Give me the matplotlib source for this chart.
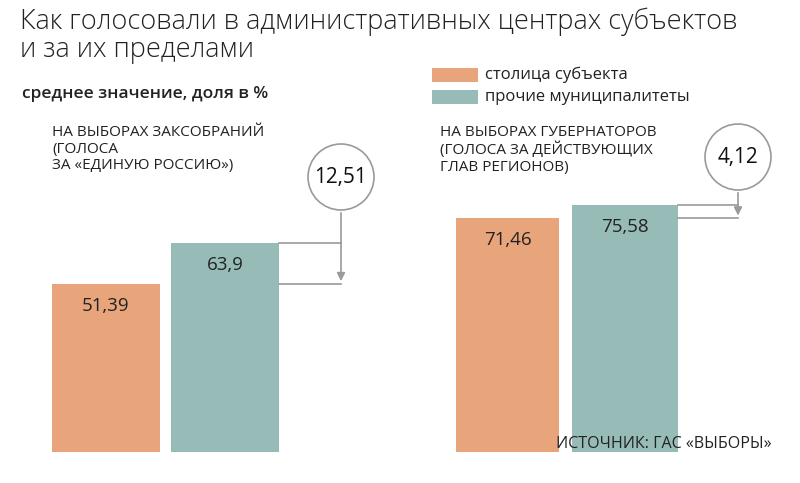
import matplotlib.pyplot as plt
from matplotlib.patches import Ellipse

# data
PANEL_TITLES = ["НА ВЫБОРАХ ЗАКСОБРАНИЙ\n(ГОЛОСА\nЗА «ЕДИНУЮ РОССИЮ»)",
                "НА ВЫБОРАХ ГУБЕРНАТОРОВ\n(ГОЛОСА ЗА ДЕЙСТВУЮЩИХ\nГЛАВ РЕГИОНОВ)"]
CAPITAL = [51.39, 71.46]
OTHER = [63.9, 75.58]
DIFF = ["12,51", "4,12"]
SERIES = ["столица субъекта", "прочие муниципалитеты"]

ORANGE = "#e8a57c"
TEAL = "#97bcb8"
GREY = "#9a9a9a"
FONT = "Open Sans"
PX = 3.27  # pixels per percent point

fig = plt.figure(figsize=(8, 4.83), dpi=100)
ax = fig.add_axes([0, 0, 1, 1])
ax.set_xlim(0, 800)
ax.set_ylim(-31 / PX, 452 / PX)
ax.axis("off")

def ypx(p):
    # pixel row -> data value
    return (452 - p) / PX

bar_x = [(52, 108, 171, 108), (456, 103, 572, 106)]
circles = [(341, 177), (738, 157)]
for i, (x1, w1, x2, w2) in enumerate(bar_x):
    ax.bar(x1, CAPITAL[i], width=w1, align="edge", color=ORANGE)
    ax.bar(x2, OTHER[i], width=w2, align="edge", color=TEAL)
    ax.text(x1 + w1 / 2, CAPITAL[i] - 22 / PX, f"{CAPITAL[i]:.2f}".replace(".", ","),
            ha="center", va="center", fontsize=13.5, family=FONT, color="#222")
    ax.text(x2 + w2 / 2, OTHER[i] - 22 / PX, f"{OTHER[i]:g}".replace(".", ","),
            ha="center", va="center", fontsize=13.5, family=FONT, color="#222")
    cx, cy = circles[i]
    right = x2 + w2
    ax.plot([right, cx], [OTHER[i], OTHER[i]], color=GREY, lw=1.2)
    ax.plot([right, cx], [CAPITAL[i], CAPITAL[i]], color=GREY, lw=1.2)
    ax.annotate("", xy=(cx, CAPITAL[i]), xytext=(cx, ypx(cy + 33)),
                arrowprops=dict(arrowstyle="-|>", color=GREY, lw=1.2, mutation_scale=12))
    ax.add_patch(Ellipse((cx, ypx(cy)), 66, 66 / PX, fill=False, ec=GREY, lw=1.2))
    ax.text(cx, ypx(cy), DIFF[i], ha="center", va="center", fontsize=15, family=FONT, color="#111")

ax.text(52, ypx(125), PANEL_TITLES[0], va="top", fontsize=11, family=FONT, color="#222", linespacing=1.15)
ax.text(440, ypx(125), PANEL_TITLES[1], va="top", fontsize=11, family=FONT, color="#222", linespacing=1.15)

fig.text(20 / 800, 1 - 8 / 483, "Как голосовали в административных центрах субъектов\nи за их пределами",
         va="top", fontsize=19.5, family=FONT, fontweight="light", color="#222", linespacing=1.0)
fig.text(22 / 800, 1 - 86 / 483, "среднее значение, доля в %", va="top", fontsize=12.5,
         family=FONT, fontweight="semibold", color="#222")

for j, (lab, col) in enumerate(zip(SERIES, [ORANGE, TEAL])):
    yy = 75 + j * 22
    ax.bar(432, 14 / PX, width=46, bottom=ypx(yy + 7), align="edge", color=col)
    ax.text(485, ypx(yy), lab, va="center", fontsize=12, family=FONT, color="#222")

fig.text(772 / 800, 1 - 436 / 483, "ИСТОЧНИК: ГАС «ВЫБОРЫ»", ha="right", va="top",
         fontsize=11.5, family=FONT, color="#222")

fig.savefig("out.png", dpi=100)
